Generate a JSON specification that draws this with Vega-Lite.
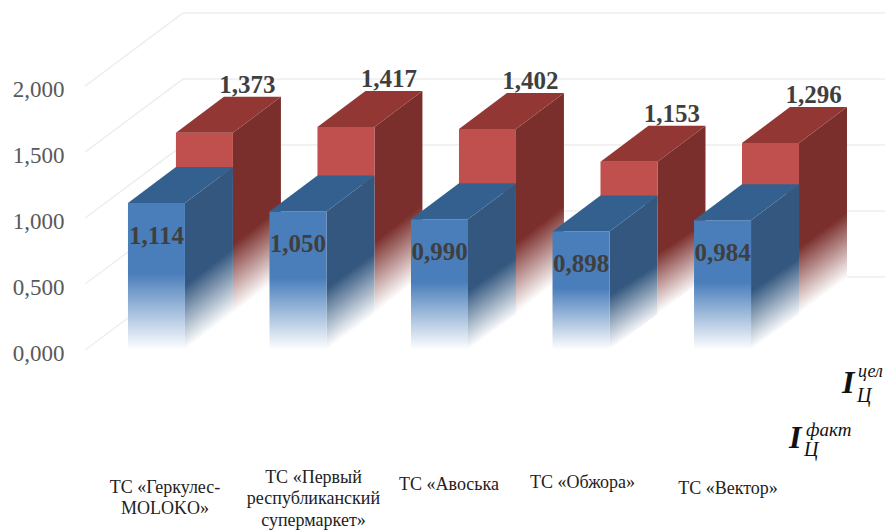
{
"$schema":"https://vega.github.io/schema/vega-lite/v6.json",
"width":815,"height":468,"autosize":{"type":"none"},"padding":{"left":70,"right":0,"top":0,"bottom":63},
"background":"white",
"config":{"view":{"stroke":null},"text":{"font":"Liberation Serif"}},
"data":{"values":[
{"i":0,"fact":1.114,"goal":1.373},
{"i":1,"fact":1.05,"goal":1.417},
{"i":2,"fact":0.99,"goal":1.402},
{"i":3,"fact":0.898,"goal":1.153},
{"i":4,"fact":0.984,"goal":1.296}]},
"encoding":{
"x":{"field":"x","type":"quantitative","scale":{"domain":[-0.611,5.148],"nice":false,"zero":false},
"axis":{"values":[0,1,2,3,4],"title":null,"domain":false,"ticks":false,"grid":false,"labelPadding":{"expr":"[10,0,7,5,11][datum.value]"},"labelOffset":{"expr":"[8,15,9,1,5][datum.value]"},"labelFont":"Liberation Serif","labelFontSize":18,"labelColor":"#222222","labelLineHeight":21.5,"labelOverlap":false,"labelBound":false,"labelFlush":false,"labelBaseline":"top",
"labelExpr":"split(['ТС «Геркулес-|MOLOKO»','ТС «Первый|республиканский|супермаркет»','ТС «Авоська','ТС «Обжора»','ТС «Вектор»'][datum.value],'|')"}},
"y":{"field":"y","type":"quantitative","stack":null,"scale":{"domain":[-0.894,2.652],"nice":false,"zero":false},
"axis":{"values":[0,0.5,1,1.5,2],"title":null,"domain":false,"ticks":false,"grid":false,"labelPadding":6,"labelOffset":3,"labelFont":"Liberation Serif","labelFontSize":23,"labelColor":"#595959","labelOverlap":false,"labelBound":false,"labelExpr":"replace(format(datum.value,'.3f'),'.',',')"}}
},
"layer":[
{"data":{"values":[{"level":0},{"level":0.5},{"level":1},{"level":1.5},{"level":2}]},
"transform":[{"calculate":"[0,1,2]","as":"t"},{"flatten":["t"]},{"calculate":"[-0.505,0.187,5.148][datum.t]","as":"x"},{"calculate":"datum.level+[0,0.553,0.553][datum.t]","as":"y"}],
"mark":{"type":"line","color":"#eeeeee","strokeWidth":1.5},
"encoding":{"detail":{"field":"level"},"order":{"field":"t"}}},

{"transform":[{"calculate":"[0,1]","as":"t"},{"flatten":["t"]},{"calculate":"datum.i+0.5404+0.339*datum.t","as":"x"},{"calculate":"datum.goal+0.2727+0.2727*datum.t","as":"y"},{"calculate":"0.2727+0.2727*datum.t","as":"y2"}],
"mark":{"type":"area","color":{"gradient":"linear","x1":0,"y1":0,"x2":0.17,"y2":1,"stops":[{"offset":0,"color":"#7b2f2c"},{"offset":0.66,"color":"#7b2f2c"},{"offset":0.97,"color":"#ffffff"}]}},
"encoding":{"y2":{"field":"y2"},"detail":{"field":"i"}}},

{"transform":[{"calculate":"datum.i+0.1376","as":"x"},{"calculate":"datum.i+0.5404","as":"x2"},{"calculate":"datum.goal+0.2727","as":"y"},{"calculate":"datum.fact+0.2","as":"y2"}],
"mark":{"type":"rect","color":"#c0504d"},
"encoding":{"x2":{"field":"x2"},"y2":{"field":"y2"}}},

{"transform":[{"calculate":"[0,1,2,3]","as":"t"},{"flatten":["t"]},{"calculate":"datum.i+[0.1376,0.4766,0.5404,0.8794][datum.t]","as":"x"},{"calculate":"datum.goal+0.2727+[0,0.2727,0.2727,0.2727][datum.t]","as":"y"},{"calculate":"datum.goal+0.2727+[0,0,0,0.2727][datum.t]","as":"y2"}],
"mark":{"type":"area","color":"#923733"},
"encoding":{"y2":{"field":"y2"},"detail":{"field":"i"}}},

{"transform":[{"calculate":"[0,1]","as":"t"},{"flatten":["t"]},{"calculate":"datum.i+0.2014+0.339*datum.t","as":"x"},{"calculate":"datum.fact+0.2727*datum.t","as":"y"},{"calculate":"0.2727*datum.t","as":"y2"}],
"mark":{"type":"area","color":{"gradient":"linear","x1":0,"y1":0,"x2":0.2,"y2":1,"stops":[{"offset":0,"color":"#33577f"},{"offset":0.62,"color":"#33577f"},{"offset":0.96,"color":"#ffffff"}]}},
"encoding":{"y2":{"field":"y2"},"detail":{"field":"i"}}},

{"transform":[{"calculate":"datum.i-0.2014","as":"x"},{"calculate":"datum.i+0.2014","as":"x2"},{"calculate":"datum.fact","as":"y"},{"calculate":"0","as":"y2"}],
"mark":{"type":"rect","color":{"gradient":"linear","x1":0,"y1":0,"x2":0,"y2":1,"stops":[{"offset":0,"color":"#4a7ebb"},{"offset":0.48,"color":"#4a7ebb"},{"offset":1,"color":"#ffffff"}]}},
"encoding":{"x2":{"field":"x2"},"y2":{"field":"y2"}}},

{"transform":[{"calculate":"[0,1,2,3]","as":"t"},{"flatten":["t"]},{"calculate":"datum.i+[-0.2014,0.1376,0.2014,0.5404][datum.t]","as":"x"},{"calculate":"datum.fact+[0,0.2727,0.2727,0.2727][datum.t]","as":"y"},{"calculate":"datum.fact+[0,0,0,0.2727][datum.t]","as":"y2"}],
"mark":{"type":"area","color":"#33608f"},
"encoding":{"y2":{"field":"y2"},"detail":{"field":"i"}}},

{"transform":[{"calculate":"datum.i+0.339","as":"x"},{"calculate":"datum.goal+0.5454","as":"y"},{"calculate":"replace(format(datum.goal,'.3f'),'.',',')","as":"label"}],
"mark":{"type":"text","font":"Liberation Serif","fontWeight":"bold","fontSize":25,"color":"#3f3f3f","dx":43,"dy":-12,"baseline":"middle"},
"encoding":{"text":{"field":"label"}}},

{"transform":[{"calculate":"datum.i","as":"x"},{"calculate":"datum.fact","as":"y"},{"calculate":"replace(format(datum.fact,'.3f'),'.',',')","as":"label"}],
"mark":{"type":"text","font":"Liberation Serif","fontWeight":"bold","fontSize":25,"color":"#3f3f3f","dy":33,"baseline":"middle"},
"encoding":{"text":{"field":"label"}}},

{"data":{"values":[{"label":"I"}]},"transform":[{"calculate":"4.845","as":"x"},{"calculate":"-0.253","as":"y"}],"mark":{"type":"text","font":"Liberation Serif","fontWeight":"bold","fontStyle":"italic","fontSize":32,"color":"#111111","align":"left"},"encoding":{"text":{"field":"label"}}},
{"data":{"values":[{"label":"цел"}]},"transform":[{"calculate":"4.958","as":"x"},{"calculate":"-0.164","as":"y"}],"mark":{"type":"text","font":"Liberation Serif","fontStyle":"italic","fontSize":18,"color":"#111111","align":"left"},"encoding":{"text":{"field":"label"}}},
{"data":{"values":[{"label":"Ц"}]},"transform":[{"calculate":"4.951","as":"x"},{"calculate":"-0.348","as":"y"}],"mark":{"type":"text","font":"Liberation Serif","fontStyle":"italic","fontSize":20,"color":"#111111","align":"left"},"encoding":{"text":{"field":"label"}}},
{"data":{"values":[{"label":"I"}]},"transform":[{"calculate":"4.47","as":"x"},{"calculate":"-0.67","as":"y"}],"mark":{"type":"text","font":"Liberation Serif","fontWeight":"bold","fontStyle":"italic","fontSize":32,"color":"#111111","align":"left"},"encoding":{"text":{"field":"label"}}},
{"data":{"values":[{"label":"факт"}]},"transform":[{"calculate":"4.59","as":"x"},{"calculate":"-0.603","as":"y"}],"mark":{"type":"text","font":"Liberation Serif","fontStyle":"italic","fontSize":19,"color":"#111111","align":"left"},"encoding":{"text":{"field":"label"}}},
{"data":{"values":[{"label":"Ц"}]},"transform":[{"calculate":"4.576","as":"x"},{"calculate":"-0.758","as":"y"}],"mark":{"type":"text","font":"Liberation Serif","fontStyle":"italic","fontSize":20,"color":"#111111","align":"left"},"encoding":{"text":{"field":"label"}}}
]
}
